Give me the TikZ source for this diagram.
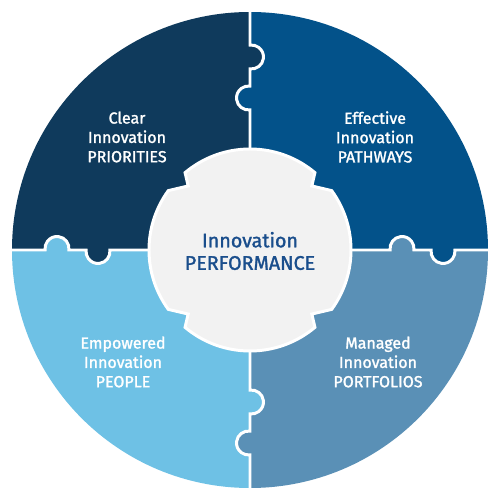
\documentclass[tikz,border=0pt]{standalone}
\usepackage{fontspec}
\setmainfont{Fira Sans}[FakeBold=1.5]
\definecolor{qtl}{HTML}{0F3A5C}
\definecolor{qtr}{HTML}{03528A}
\definecolor{qbl}{HTML}{6EC1E5}
\definecolor{qbr}{HTML}{5A90B6}
\definecolor{cgray}{HTML}{F2F2F2}
\definecolor{ctext}{HTML}{1A4E8C}
\tikzset{
  sep/.style={draw=white, line width=1.7pt},
  corefill/.style={fill=cgray, draw=white, line width=1.7pt},
  qlabel/.style={text=white, align=center, font=\fontsize{9.1}{11}\selectfont},
  clabel/.style={text=ctext, align=center, font=\fontsize{11.2}{12.8}\selectfont},
}
\begin{document}
\begin{tikzpicture}[x=0.02cm,y=0.02cm]
\useasboundingbox (-250,-250) rectangle (250,250);
% quadrants
\fill[qtr] (0,0) -- (0:238) arc (0:90:238) -- cycle;
\fill[qtl] (0,0) -- (90:238) arc (90:180:238) -- cycle;
\fill[qbl] (0,0) -- (180:238) arc (180:270:238) -- cycle;
\fill[qbr] (0,0) -- (270:238) arc (270:360:238) -- cycle;
% puzzle joints
\foreach \rot/\ca/\cb in {0/qtl/qtr, -90/qtr/qbr, 180/qbr/qbl, 90/qbl/qtl} {
  \begin{scope}[rotate=\rot]
    \fill[\ca] (1.5,193) circle (12);
    \fill[\cb] (-1.5,152) circle (12);
    \draw[sep] (0,95) -- (0,140.1) arc (-82.8:-277.2:12) -- (0,181.1) arc (-97.2:97.2:12) -- (0,242);
  \end{scope}
}
% centre
\path[corefill] (36:101) -- (46:89) -- (50:101) arc (50:130:101) -- (134:89) -- (144:101)
  arc (144:216:101) -- (226:89) -- (230:101) arc (230:310:101) -- (314:89) -- (324:101)
  arc (324:396:101) -- cycle;
\node[clabel] (core) at (0,-1) {Innovation\\PERFORMANCE};
\node[qlabel] (lbltl) at (-123,113) {Clear\\Innovation\\PRIORITIES};
\node[qlabel] (lbltr) at (125,113) {Effective\\Innovation\\PATHWAYS};
\node[qlabel] (lblbl) at (-127,-112) {Empowered\\Innovation\\PEOPLE};
\node[qlabel] (lblbr) at (128,-112) {Managed\\Innovation\\PORTFOLIOS};
\end{tikzpicture}
\end{document}
